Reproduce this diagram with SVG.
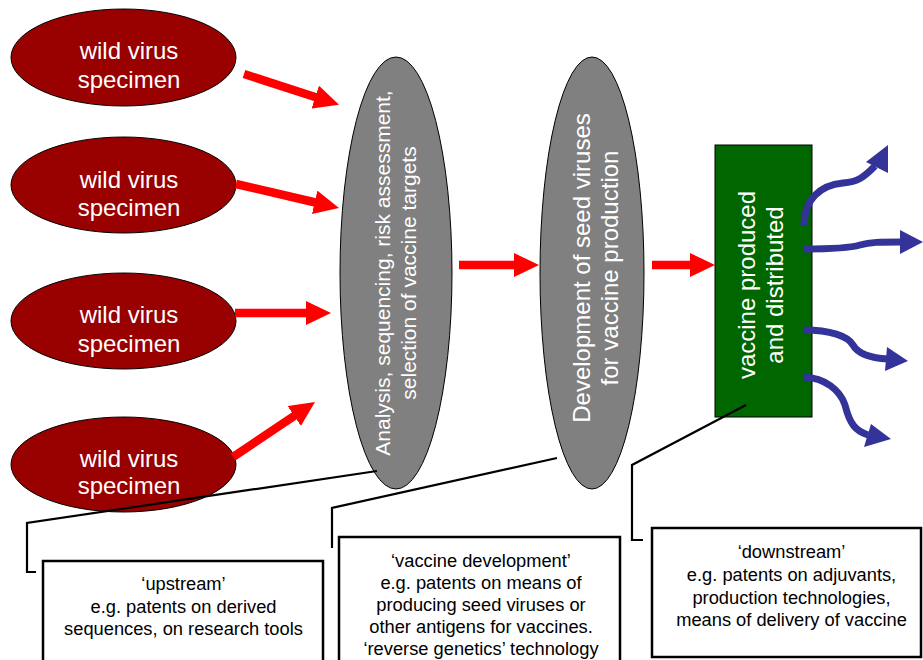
<svg xmlns="http://www.w3.org/2000/svg" width="923" height="660" viewBox="0 0 923 660">
<style>
text{font-family:"Liberation Sans",Arial,sans-serif;}
.red{fill:#990000;stroke:#000;stroke-width:1;}
.gray{fill:#808080;stroke:#000;stroke-width:1;}
.wt{fill:#fff;text-anchor:middle;}
.w24{font-size:24px;}
.w21{font-size:21px;}
.box{fill:#fff;stroke:#000;stroke-width:2.5;}
.bt{fill:#000;text-anchor:middle;font-size:18.3px;}
.ra{stroke:#ff0000;stroke-width:8.5;fill:none;marker-end:url(#rh);}
.ba{stroke:#333399;stroke-width:7;fill:none;}
.bh{fill:#333399;}
.cl{stroke:#000;stroke-width:2.2;fill:none;}
</style>
<defs>
<marker id="rh" markerUnits="userSpaceOnUse" markerWidth="26" markerHeight="24" refX="3" refY="12" orient="auto">
<path d="M0,0 L25,12 L0,24 z" fill="#ff0000"/>
</marker>
</defs>
<rect width="923" height="660" fill="#fff"/>
<g id="wild1"><ellipse class="red" cx="123.5" cy="57.5" rx="112.5" ry="48.5"/><text class="wt w24" x="129" y="59">wild virus</text><text class="wt w24" x="129" y="88">specimen</text></g>
<g id="wild2"><ellipse class="red" cx="123.5" cy="185" rx="112.5" ry="48"/><text class="wt w24" x="129" y="188">wild virus</text><text class="wt w24" x="129" y="216">specimen</text></g>
<g id="wild3"><ellipse class="red" cx="123.5" cy="321" rx="112.5" ry="48"/><text class="wt w24" x="129" y="323">wild virus</text><text class="wt w24" x="129" y="352">specimen</text></g>
<g id="wild4"><ellipse class="red" cx="123.5" cy="464.5" rx="112.5" ry="47.5"/><text class="wt w24" x="129" y="467">wild virus</text><text class="wt w24" x="129" y="494">specimen</text></g>
<g id="analysis"><ellipse class="gray" cx="396" cy="273" rx="56" ry="216"/><g transform="translate(390,273) rotate(-90)"><text class="wt w21" x="0" y="0">Analysis, sequencing, risk assessment,</text><text class="wt w21" x="0" y="26">selection of vaccine targets</text></g></g>
<g id="seed"><ellipse class="gray" cx="592" cy="273" rx="52" ry="216"/><g transform="translate(590,268) rotate(-90)"><text class="wt w24" x="0" y="0">Development of seed viruses</text><text class="wt w24" x="0" y="28">for vaccine production</text></g></g>
<g id="vaccine"><rect x="715" y="145" width="97" height="272" fill="#006600" stroke="#000" stroke-width="1"/><g transform="translate(755,285) rotate(-90)"><text class="wt w24" x="0" y="0">vaccine produced</text><text class="wt w24" x="0" y="28">and distributed</text></g></g>
<g id="upstream"><rect class="box" x="43" y="561" width="280" height="110"/><text class="bt" x="183.5" y="590">‘upstream’</text><text class="bt" x="183.5" y="613">e.g. patents on derived</text><text class="bt" x="183.5" y="635">sequences, on research tools</text></g>
<g id="development"><rect class="box" x="339" y="537" width="281" height="130"/><text class="bt" x="481" y="567">‘vaccine development’</text><text class="bt" x="481" y="589">e.g. patents on means of</text><text class="bt" x="481" y="611">producing seed viruses or</text><text class="bt" x="481" y="633">other antigens for vaccines.</text><text class="bt" x="481" y="655">‘reverse genetics’ technology</text></g>
<g id="downstream"><rect class="box" x="652" y="528" width="269" height="129"/><text class="bt" x="791.5" y="558">‘downstream’</text><text class="bt" x="791.5" y="581">e.g. patents on adjuvants,</text><text class="bt" x="791.5" y="604">production technologies,</text><text class="bt" x="791.5" y="626">means of delivery of vaccine</text></g>
<g id="connectors">
<line class="ra" x1="244" y1="74" x2="318.1" y2="98"/>
<line class="ra" x1="236" y1="184" x2="317.6" y2="203"/>
<line class="ra" x1="235" y1="313" x2="309" y2="313"/>
<line class="ra" x1="233" y1="457" x2="296.7" y2="414.3"/>
<line class="ra" x1="459" y1="265" x2="517" y2="265"/>
<line class="ra" x1="652" y1="265" x2="693" y2="265"/>
<path class="ba" d="M804,225 C804,200 820,185 843,183 C858,182 864,177 875,166"/>
<polygon class="bh" points="888,145 866,162 888,173"/>
<path class="ba" d="M804,249 C830,249 850,248 860,245 C870,242 880,242 901,242"/>
<polygon class="bh" points="923,242 900,230 900,254"/>
<path class="ba" d="M804,330 C830,330 848,336 853,345 C858,354 870,358 888,359"/>
<polygon class="bh" points="908,361 887,347 885,371"/>
<path class="ba" d="M804,377 C825,378 840,390 845,405 C850,425 856,431 868,435"/>
<polygon class="bh" points="891,439 871,424 864,447"/>
<polyline class="cl" points="377,471 27,523 27,572 36,572"/>
<polyline class="cl" points="557,458 332,508 332,548"/>
<polyline class="cl" points="746,405 632,465 632,540 643,540"/>
</g>
</svg>
